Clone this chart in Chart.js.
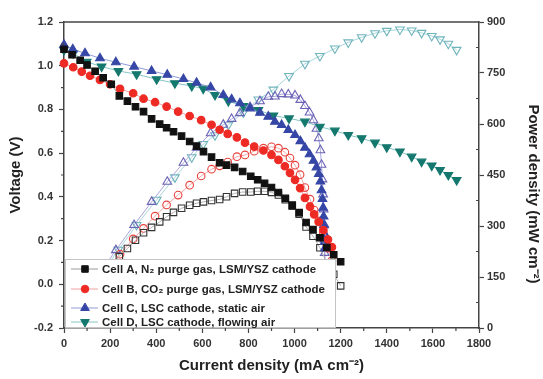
<!DOCTYPE html>
<html>
<head>
<meta charset="utf-8">
<script src="https://cdn.jsdelivr.net/npm/chart.js@4.4.0/dist/chart.umd.min.js"></script>
<style>
html, body { margin: 0; padding: 0; background: #fff; }
#wrap { width: 543px; height: 379px; position: relative; }
</style>
</head>
<body>
<div id="wrap"><canvas id="grafico"></canvas></div>
<script>
// densidade de corrente (mA cm-2), tensao (V) e potencia (mW cm-2) de cada celula
let correnteA = [0, 35, 70, 100, 135, 170, 205, 240, 275, 310, 345, 380, 415, 445, 475, 510, 545, 575, 605, 640, 675, 705, 740, 775, 810, 840, 870, 900, 930, 960, 990, 1020, 1050, 1080, 1110, 1140, 1170, 1200]
let tensaoA = [1.075, 1.05, 1.025, 1.003, 0.975, 0.945, 0.915, 0.862, 0.838, 0.812, 0.79, 0.757, 0.733, 0.716, 0.698, 0.678, 0.653, 0.632, 0.607, 0.582, 0.556, 0.545, 0.535, 0.516, 0.494, 0.478, 0.462, 0.443, 0.42, 0.393, 0.362, 0.328, 0.283, 0.25, 0.213, 0.168, 0.135, 0.103]
// potencia a partir do segundo ponto de corrente (o ponto zero fica escondido)
let potenciaA = [37, 72, 100, 132, 161, 188, 210, 234, 258, 280, 296, 312, 327, 340, 352, 361, 367, 371, 375, 378, 386, 396, 400, 400, 402, 402, 399, 391, 377, 358, 335, 297, 270, 236, 192, 158, 124]

let correnteB = [0, 40, 77, 113, 156, 200, 243, 300, 345, 395, 445, 495, 545, 595, 640, 675, 710, 750, 785, 825, 865, 900, 930, 958, 980, 1002, 1024, 1045, 1067, 1085, 1105, 1125, 1145, 1162]
let tensaoB = [1.011, 0.993, 0.973, 0.954, 0.935, 0.915, 0.894, 0.874, 0.849, 0.833, 0.813, 0.79, 0.77, 0.751, 0.73, 0.707, 0.688, 0.672, 0.648, 0.63, 0.612, 0.592, 0.569, 0.54, 0.51, 0.478, 0.44, 0.395, 0.355, 0.32, 0.285, 0.248, 0.205, 0.17]
let potenciaB = [40, 75, 108, 146, 183, 217, 262, 293, 329, 362, 391, 420, 447, 467, 477, 488, 504, 509, 520, 529, 533, 529, 517, 500, 479, 451, 413, 379, 347, 315, 279, 235, 198]

let correnteC = [0, 38, 91, 156, 225, 304, 380, 448, 518, 575, 636, 691, 727, 763, 807, 850, 886, 915, 944, 973, 1002, 1025, 1045, 1065, 1082, 1095, 1105, 1112, 1117, 1121, 1124, 1126, 1128, 1130, 1131, 1132]
let tensaoC = [1.096, 1.075, 1.057, 1.034, 1.016, 0.996, 0.976, 0.959, 0.939, 0.922, 0.901, 0.866, 0.846, 0.828, 0.805, 0.785, 0.767, 0.744, 0.729, 0.706, 0.683, 0.655, 0.625, 0.595, 0.565, 0.535, 0.505, 0.47, 0.43, 0.39, 0.35, 0.31, 0.27, 0.23, 0.195, 0.165]
let potenciaC = [41, 96, 161, 229, 303, 371, 430, 486, 530, 573, 598, 615, 632, 650, 667, 680, 681, 688, 687, 684, 671, 653, 634, 611, 586, 558, 523, 480, 437, 393, 349, 305, 260, 221, 187]

let correnteD = [0, 40, 98, 163, 236, 315, 402, 481, 554, 604, 655, 713, 778, 843, 908, 976, 1045, 1110, 1175, 1233, 1291, 1349, 1400, 1457, 1508, 1551, 1595, 1631, 1667, 1703]
let tensaoD = [1.072, 1.057, 1.018, 0.996, 0.976, 0.961, 0.938, 0.92, 0.907, 0.895, 0.866, 0.838, 0.815, 0.797, 0.772, 0.759, 0.744, 0.721, 0.703, 0.683, 0.668, 0.648, 0.627, 0.607, 0.584, 0.561, 0.543, 0.523, 0.5, 0.477]
let potenciaD = [42, 100, 162, 230, 303, 377, 443, 502, 541, 567, 598, 634, 672, 701, 741, 777, 800, 822, 840, 855, 867, 874, 878, 875, 868, 859, 849, 836, 818]

let rotulos = ["Cell A, N\u2082 purge gas, LSM/YSZ cathode", "Cell B, CO\u2082 purge gas, LSM/YSZ cathode", "Cell C, LSC cathode, static air", "Cell D, LSC cathode, flowing air"]

let ticksX = [0, 200, 400, 600, 800, 1000, 1200, 1400, 1600, 1800]
let menoresX = [100, 300, 500, 700, 900, 1100, 1300, 1500, 1700]
let menoresY = [-0.1, 0.1, 0.3, 0.5, 0.7, 0.9, 1.1]
let menoresY1 = [75, 225, 375, 525, 675, 825]

const fonte = '"Liberation Sans", Arial, sans-serif'

function pontos(x, y){
    return y.map((v, i) => ({ x: x[i], y: v }))
}

function serie(label, x, y, eixo, estilo, rot, raio, cheio, corPonto, corLinha){
    return {
        label: label,
        data: pontos(x, y),
        yAxisID: eixo,
        showLine: true,
        borderColor: corLinha,
        borderWidth: 1,
        pointStyle: estilo,
        pointRotation: rot,
        pointRadius: raio,
        pointBorderWidth: 1.1,
        pointBorderColor: corPonto,
        pointBackgroundColor: cheio ? corPonto : 'rgba(255,255,255,0)',
        clip: false
    }
}

// legenda dentro da area do grafico, com fundo branco por cima dos dados
const legendaBox = {
    id: 'legendaBox',
    afterDatasetsDraw(chart){
        const ctx = chart.ctx
        const area = chart.chartArea
        const x0 = area.left + 1, y0 = 259, x1 = 336, y1 = area.bottom - 1
        ctx.save()
        ctx.fillStyle = '#fff'
        ctx.fillRect(x0, y0, x1 - x0, y1 - y0)
        ctx.strokeStyle = '#c4c4c4'
        ctx.lineWidth = 1
        ctx.strokeRect(x0 + 0.5, y0 + 0.5, x1 - x0 - 1, y1 - y0)
        const linhas = [269, 289, 308, 322]
        for(let i = 0; i < 4; i++)
        {
            const ds = chart.data.datasets[i]
            const y = linhas[i]
            ctx.strokeStyle = ds.borderColor
            ctx.lineWidth = 1
            ctx.beginPath()
            ctx.moveTo(71, y)
            ctx.lineTo(98, y)
            ctx.stroke()
            ctx.fillStyle = ds.pointBackgroundColor
            ctx.strokeStyle = ds.pointBorderColor
            Chart.helpers.drawPoint(ctx, { pointStyle: ds.pointStyle, rotation: ds.pointRotation, radius: ds.pointRadius, borderWidth: 1 }, 85, y)
            ctx.fillStyle = '#222'
            ctx.font = 'bold 11.5px ' + fonte
            ctx.textBaseline = 'middle'
            ctx.textAlign = 'left'
            ctx.fillText(ds.label, 102, y + 1)
        }
        ctx.restore()
    }
}

// moldura de cima, ticks menores e titulo do eixo da direita
const moldura = {
    id: 'moldura',
    afterDraw(chart){
        const ctx = chart.ctx
        const a = chart.chartArea
        const sx = chart.scales.x, sy = chart.scales.y, sy1 = chart.scales.y1
        ctx.save()
        ctx.strokeStyle = '#444'
        ctx.lineWidth = 1.5
        ctx.beginPath()
        ctx.moveTo(a.left - 0.5, a.top)
        ctx.lineTo(a.right + 0.5, a.top)
        ctx.stroke()
        ctx.lineWidth = 1.2
        ctx.beginPath()
        menoresX.forEach(v => { const p = sx.getPixelForValue(v); ctx.moveTo(p, a.bottom); ctx.lineTo(p, a.bottom + 3) })
        menoresY.forEach(v => { const p = sy.getPixelForValue(v); ctx.moveTo(a.left, p); ctx.lineTo(a.left - 3, p) })
        menoresY1.forEach(v => { const p = sy1.getPixelForValue(v); ctx.moveTo(a.right, p); ctx.lineTo(a.right - 3, p) })
        ctx.stroke()
        ctx.translate(533, 194)
        ctx.rotate(Math.PI / 2)
        ctx.fillStyle = '#222'
        ctx.font = 'bold 15px ' + fonte
        ctx.textAlign = 'center'
        ctx.textBaseline = 'middle'
        ctx.fillText('Power density (mW cm\u207B\u00B2)', 0, 0)
        ctx.restore()
    }
}

const grade = { display: true, drawOnChartArea: false, drawTicks: true, tickLength: 5, tickColor: '#444', tickWidth: 1.2 }
const borda = { display: true, color: '#444', width: 1.5 }
const fonteTick = { family: fonte, size: 11, weight: 'bold' }
const fonteTitulo = { family: fonte, size: 15, weight: 'bold' }

const ctx = document.getElementById('grafico').getContext('2d')
const grafico = new Chart(ctx, {
    type: 'scatter',
    data: {
        datasets: [
            serie(rotulos[0], correnteA, tensaoA, 'y', 'rect', 0, 4.6, true, '#111111', '#9a9a9a'),
            serie(rotulos[1], correnteB, tensaoB, 'y', 'circle', 0, 3.8, true, '#ee2a24', '#f2a0a0'),
            serie(rotulos[2], correnteC, tensaoC, 'y', 'triangle', 0, 5, true, '#3546a6', '#8f9bd6'),
            serie(rotulos[3], correnteD, tensaoD, 'y', 'triangle', 180, 5, true, '#14786e', '#86c4c4'),
            serie('A power', correnteA.slice(1), potenciaA, 'y1', 'rect', 0, 4.6, false, '#333333', '#b0b0b0'),
            serie('B power', correnteB.slice(1), potenciaB, 'y1', 'circle', 0, 3.8, false, '#e8413c', '#f2a8a8'),
            serie('C power', correnteC.slice(1), potenciaC, 'y1', 'triangle', 0, 5, false, '#6b63b5', '#a9a6dc'),
            serie('D power', correnteD.slice(1), potenciaD, 'y1', 'triangle', 180, 5, false, '#6fb4bb', '#a8d6dc')
        ]
    },
    options: {
        responsive: true,
        maintainAspectRatio: false,
        animation: false,
        devicePixelRatio: 1,
        layout: { padding: { top: 22, left: 0, right: 0, bottom: 0 } },
        plugins: { legend: { display: false }, tooltip: { enabled: false } },
        scales: {
            x: {
                type: 'linear', min: 0, max: 1800,
                afterBuildTicks: s => { s.ticks = ticksX.map(v => ({ value: v })) },
                ticks: { font: fonteTick, color: '#333', padding: 4, maxRotation: 0, callback: v => String(v) },
                grid: grade, border: borda,
                title: { display: true, text: 'Current density (mA cm\u207B\u00B2)', color: '#222', font: fonteTitulo, padding: { top: 0, bottom: 4 } },
                afterFit: s => { s.height = 51 }
            },
            y: {
                position: 'left', min: -0.2, max: 1.2,
                ticks: { stepSize: 0.2, font: fonteTick, color: '#333', padding: 6, callback: v => (Math.abs(v) < 1e-6 ? 0 : v).toFixed(1) },
                grid: grade, border: borda,
                title: { display: true, text: 'Voltage (V)', color: '#222', font: fonteTitulo, padding: { top: 7 } },
                afterFit: s => { s.width = 64 }
            },
            y1: {
                position: 'right', min: 0, max: 900,
                ticks: { stepSize: 150, font: fonteTick, color: '#333', padding: 3 },
                grid: grade, border: borda,
                afterFit: s => { s.width = 64 }
            }
        }
    },
    plugins: [legendaBox, moldura]
})
</script>
</body>
</html>
